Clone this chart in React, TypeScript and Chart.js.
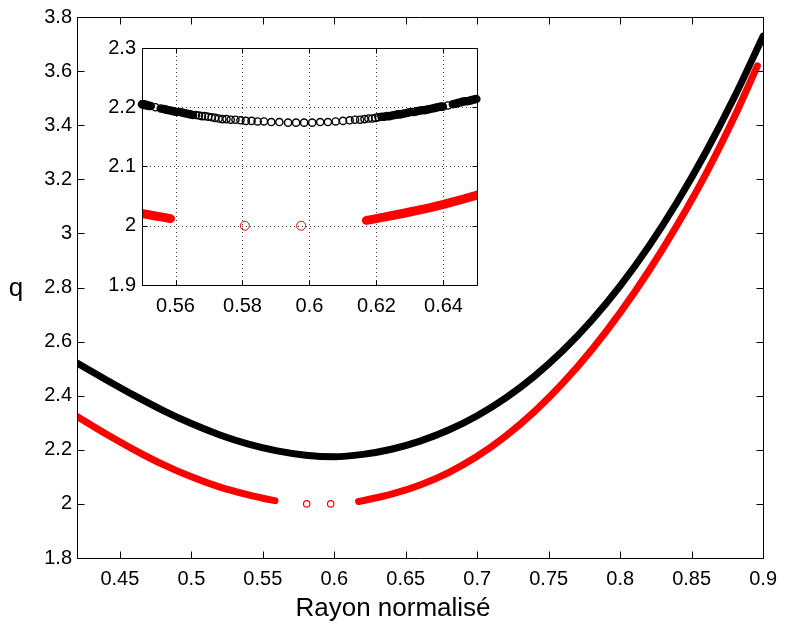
import React, { useEffect, useRef } from "react";
import { Chart, registerables } from "chart.js";

Chart.register(...registerables);

// ---------------- data ----------------
const blackRho = [0.42, 0.44, 0.46, 0.48, 0.5, 0.52, 0.54, 0.56, 0.58, 0.6, 0.62, 0.64, 0.66, 0.68, 0.7, 0.72, 0.74, 0.76, 0.78, 0.8, 0.82, 0.84, 0.86, 0.88, 0.9];
const blackQ = [2.521, 2.46, 2.401, 2.346, 2.297, 2.255, 2.221, 2.196, 2.18, 2.174, 2.183, 2.202, 2.232, 2.273, 2.326, 2.392, 2.472, 2.567, 2.678, 2.806, 2.952, 3.117, 3.301, 3.505, 3.729];

const redLeftRho = [0.42, 0.44, 0.46, 0.48, 0.5, 0.52, 0.54, 0.55, 0.5585];
const redLeftQ = [2.323, 2.259, 2.2, 2.146, 2.1, 2.062, 2.033, 2.021, 2.012];

const redIsoRho = [0.5807, 0.5975];
const redIsoQ = [2.0, 2.0];

const redRightRho = [0.617, 0.62, 0.64, 0.66, 0.68, 0.7, 0.72, 0.74, 0.76, 0.78, 0.8, 0.82, 0.84, 0.86, 0.88, 0.896];
const redRightQ = [2.009, 2.012, 2.036, 2.07, 2.116, 2.176, 2.251, 2.341, 2.447, 2.569, 2.707, 2.861, 3.032, 3.22, 3.432, 3.619];

// individual black markers seen in the zoomed inset
const insetBlackRho = [
  0.55, 0.5503, 0.5506, 0.5509, 0.5512, 0.5515, 0.5518, 0.5522, 0.5526, 0.554,
  0.5556, 0.5564, 0.5572, 0.558, 0.5588, 0.5596, 0.5604, 0.5612, 0.562, 0.5628,
  0.5636, 0.5644, 0.5652, 0.5661, 0.567, 0.5679, 0.5688, 0.5698, 0.5708, 0.5718,
  0.5729, 0.574, 0.5752, 0.5765, 0.5779, 0.5794, 0.581, 0.5827, 0.5845,
  0.5864, 0.5886, 0.591, 0.5936, 0.596, 0.5984, 0.6008, 0.6032, 0.6055,
  0.6078, 0.61, 0.612, 0.6136, 0.6151, 0.6164, 0.6176, 0.6187, 0.6197, 0.6206,
  0.6215, 0.6223, 0.6231, 0.6239, 0.6247, 0.6255, 0.6263, 0.6271, 0.6279, 0.6287,
  0.6295, 0.6303, 0.6311, 0.6319, 0.6327, 0.6335, 0.6343, 0.6351, 0.6359, 0.6367,
  0.6375, 0.6383, 0.6391, 0.6398, 0.6413, 0.6428, 0.6435, 0.6442, 0.6449, 0.6456,
  0.6463, 0.647, 0.6477, 0.6484, 0.6491, 0.6498,
];
const insetBlackQ = [
  2.205, 2.205, 2.204, 2.204, 2.204, 2.203, 2.203, 2.202, 2.202, 2.2,
  2.198, 2.197, 2.196, 2.195, 2.194, 2.193, 2.192, 2.192, 2.191, 2.19,
  2.189, 2.188, 2.187, 2.187, 2.186, 2.185, 2.185, 2.184, 2.183, 2.182,
  2.181, 2.18, 2.18, 2.179, 2.179, 2.178, 2.177, 2.177, 2.176,
  2.176, 2.175, 2.175, 2.174, 2.174, 2.174, 2.174, 2.175, 2.175,
  2.176, 2.177, 2.178, 2.179, 2.179, 2.18, 2.181, 2.181, 2.182, 2.183,
  2.184, 2.184, 2.185, 2.185, 2.186, 2.187, 2.188, 2.188, 2.189, 2.19,
  2.191, 2.192, 2.192, 2.193, 2.194, 2.195, 2.195, 2.196, 2.197, 2.198,
  2.199, 2.2, 2.201, 2.201, 2.203, 2.205, 2.206, 2.207, 2.208, 2.209,
  2.21, 2.21, 2.211, 2.212, 2.213, 2.214,
];

const mainXTicks = [0.45, 0.5, 0.55, 0.6, 0.65, 0.7, 0.75, 0.8, 0.85, 0.9];
const mainYTicks = [1.8, 2, 2.2, 2.4, 2.6, 2.8, 3, 3.2, 3.4, 3.6, 3.8];
const insetXTicks = [0.56, 0.58, 0.6, 0.62, 0.64];
const insetYTicks = [1.9, 2, 2.1, 2.2, 2.3];

const xTitle = "Rayon normalisé";
const yTitle = "q";

// ---------------- helpers ----------------
const FONT = "'Liberation Sans', Arial, Helvetica, sans-serif";
const pts = (xs: number[], ys: number[]) => xs.map((x, i) => ({ x, y: ys[i] }));

const makeFrame = (tickLen: number, xTicks: number[], yTicks: number[], grid: boolean) => ({
  id: "frame",
  beforeDatasetsDraw(chart: any) {
    const { ctx, chartArea: a } = chart;
    const xs = chart.scales.x;
    const ys = chart.scales.y;
    ctx.save();
    ctx.fillStyle = "#ffffff";
    ctx.fillRect(a.left, a.top, a.right - a.left, a.bottom - a.top);
    if (grid) {
      ctx.strokeStyle = "#3c3c3c";
      ctx.lineWidth = 1;
      ctx.setLineDash([1, 3]);
      xTicks.forEach((v) => {
        const p = Math.round(xs.getPixelForValue(v)) + 0.5;
        ctx.beginPath();
        ctx.moveTo(p, a.top);
        ctx.lineTo(p, a.bottom);
        ctx.stroke();
      });
      yTicks.forEach((v) => {
        const p = Math.round(ys.getPixelForValue(v)) + 0.5;
        ctx.beginPath();
        ctx.moveTo(a.left, p);
        ctx.lineTo(a.right, p);
        ctx.stroke();
      });
    }
    ctx.restore();
  },
  afterDatasetsDraw(chart: any) {
    const { ctx, chartArea: a } = chart;
    const xs = chart.scales.x;
    const ys = chart.scales.y;
    ctx.save();
    ctx.strokeStyle = "#000";
    ctx.lineWidth = 1;
    ctx.setLineDash([]);
    const L = Math.round(a.left) + 0.5;
    const R = Math.round(a.right) + 0.5;
    const T = Math.round(a.top) + 0.5;
    const B = Math.round(a.bottom) + 0.5;
    ctx.beginPath();
    ctx.rect(L, T, R - L, B - T);
    ctx.stroke();
    ctx.beginPath();
    xTicks.forEach((v) => {
      const p = Math.round(xs.getPixelForValue(v)) + 0.5;
      ctx.moveTo(p, B);
      ctx.lineTo(p, B - tickLen);
      ctx.moveTo(p, T);
      ctx.lineTo(p, T + tickLen);
    });
    yTicks.forEach((v) => {
      const p = Math.round(ys.getPixelForValue(v)) + 0.5;
      ctx.moveTo(L, p);
      ctx.lineTo(L + tickLen, p);
      ctx.moveTo(R, p);
      ctx.lineTo(R - tickLen, p);
    });
    ctx.stroke();
    ctx.restore();
  },
});

const titlesPlugin = {
  id: "axisTitles",
  afterDraw(chart: any) {
    const { ctx } = chart;
    ctx.save();
    ctx.fillStyle = "#000";
    ctx.font = `26px ${FONT}`;
    ctx.textAlign = "center";
    ctx.textBaseline = "alphabetic";
    ctx.fillText(xTitle, 393, 616);
    ctx.fillText(yTitle, 16, 296);
    ctx.restore();
  },
};

const band = (data: any[], color: string, width: number) => ({
  data,
  showLine: true,
  borderColor: color,
  borderWidth: width,
  borderCapStyle: "round",
  borderJoinStyle: "round",
  cubicInterpolationMode: "monotone",
  pointRadius: 0,
  pointHoverRadius: 0,
  fill: false,
});

const hollow = (data: any[], color: string, r: number, bw: number, fillColor = "rgba(0,0,0,0)") => ({
  data,
  showLine: false,
  borderWidth: 0,
  pointRadius: r,
  pointHoverRadius: r,
  pointBorderColor: color,
  pointBackgroundColor: fillColor,
  pointBorderWidth: bw,
  clip: false,
});

const fmt = (v: any) => String(v);

export default function App() {
  const mainRef = useRef<HTMLCanvasElement>(null);
  const insetRef = useRef<HTMLCanvasElement>(null);

  useEffect(() => {
    const tickFont = { family: FONT, size: 20 };
    const sparse = pts(insetBlackRho, insetBlackQ).filter((p, i, arr) => {
      const prev = arr[i - 1];
      const next = arr[i + 1];
      return prev && next && next.x - prev.x > 0.0042;
    });
    const main = new Chart(mainRef.current as HTMLCanvasElement, {
      type: "line",
      data: {
        datasets: [
          band(pts(blackRho, blackQ), "#000000", 7),
          hollow(sparse, "rgba(0,0,0,0)", 1.4, 0, "#ffffff"),
          band(pts(redLeftRho, redLeftQ), "#ff0000", 7),
          band(pts(redRightRho, redRightQ), "#ff0000", 7),
          hollow(pts(redIsoRho, redIsoQ), "#ff0000", 3.2, 1.2),
        ] as any,
      },
      options: {
        responsive: false,
        animation: false,
        events: [],
        layout: { padding: { top: 11, right: 16, left: 0, bottom: 0 } },
        plugins: { legend: { display: false }, tooltip: { enabled: false } },
        scales: {
          x: {
            type: "linear",
            min: 0.42,
            max: 0.9,
            afterBuildTicks: (s: any) => {
              s.ticks = mainXTicks.map((v) => ({ value: v }));
            },
            afterFit: (s: any) => {
              s.height = 72;
            },
            grid: { display: false, drawTicks: false },
            border: { display: false },
            ticks: { callback: fmt, font: tickFont, color: "#000", padding: 9, autoSkip: false, maxRotation: 0, minRotation: 0 },
          },
          y: {
            type: "linear",
            min: 1.8,
            max: 3.8,
            afterBuildTicks: (s: any) => {
              s.ticks = mainYTicks.map((v) => ({ value: v }));
            },
            afterFit: (s: any) => {
              s.width = 77;
            },
            grid: { display: false, drawTicks: false },
            border: { display: false },
            ticks: { callback: fmt, font: tickFont, color: "#000", padding: 5, autoSkip: false },
          },
        },
      } as any,
      plugins: [makeFrame(7, mainXTicks, mainYTicks, false), titlesPlugin],
    });

    const inset = new Chart(insetRef.current as HTMLCanvasElement, {
      type: "line",
      data: {
        datasets: [
          band(pts(redLeftRho, redLeftQ), "#ff0000", 9),
          band(pts(redRightRho, redRightQ), "#ff0000", 9),
          hollow(pts(redIsoRho, redIsoQ), "#ff0000", 4.5, 1),
          {
            data: pts(insetBlackRho, insetBlackQ),
            showLine: true,
            borderWidth: 6.5,
            borderCapStyle: "round",
            borderJoinStyle: "round",
            pointRadius: 0,
            pointHoverRadius: 0,
            clip: false,
            segment: {
              borderColor: (c: any) => (c.p1.parsed.x - c.p0.parsed.x < 0.00085 ? "#000000" : "rgba(0,0,0,0)"),
            },
          },
          hollow(pts(insetBlackRho, insetBlackQ), "#000000", 3.6, 1.4),
        ] as any,
      },
      options: {
        responsive: false,
        animation: false,
        events: [],
        layout: { padding: { top: 12, right: 13, left: 0, bottom: 0 } },
        plugins: { legend: { display: false }, tooltip: { enabled: false } },
        scales: {
          x: {
            type: "linear",
            min: 0.55,
            max: 0.65,
            afterBuildTicks: (s: any) => {
              s.ticks = insetXTicks.map((v) => ({ value: v }));
            },
            afterFit: (s: any) => {
              s.height = 35;
            },
            grid: { display: false, drawTicks: false },
            border: { display: false },
            ticks: { callback: fmt, font: tickFont, color: "#000", padding: 9, autoSkip: false, maxRotation: 0, minRotation: 0 },
          },
          y: {
            type: "linear",
            min: 1.9,
            max: 2.3,
            afterBuildTicks: (s: any) => {
              s.ticks = insetYTicks.map((v) => ({ value: v }));
            },
            afterFit: (s: any) => {
              s.width = 52;
            },
            grid: { display: false, drawTicks: false },
            border: { display: false },
            ticks: { callback: fmt, font: tickFont, color: "#000", padding: 6, autoSkip: false },
          },
        },
      } as any,
      plugins: [makeFrame(5, insetXTicks, insetYTicks, true)],
    });

    return () => {
      main.destroy();
      inset.destroy();
    };
  }, []);

  return (
    <div style={{ position: "absolute", left: 0, top: 0, width: 786, height: 630, background: "#fff" }}>
      <canvas ref={mainRef} width={786} height={630} style={{ position: "absolute", left: 0, top: 0, width: 786, height: 630 }} />
      <canvas ref={insetRef} width={400} height={290} style={{ position: "absolute", left: 90, top: 30, width: 400, height: 290 }} />
    </div>
  );
}
